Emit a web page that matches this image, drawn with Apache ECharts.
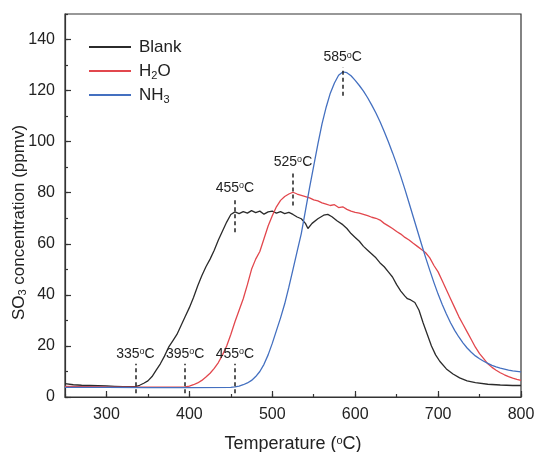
<!DOCTYPE html>
<html>
<head>
<meta charset="utf-8">
<script src="https://cdn.jsdelivr.net/npm/echarts@6/dist/echarts.min.js"></script>
<style>html,body{margin:0;padding:0;background:#fff}#c{width:534px;height:452px}</style>
</head>
<body>
<div id="c"></div>
<script>
// Blank (no additive): [temperature °C, SO3 ppmv]
const blankData = [[250,5.2],[260,4.8],[270,4.6],[280,4.5],[290,4.4],[300,4.3],[310,4.2],[320,4.1],[330,4.1],[335,4.1],[340,4.6],[345,5.4],[350,6.3],[355,8],[360,10.5],[365,13],[370,16],[375,19.5],[380,22],[385,24.5],[390,28],[395,31.5],[400,35],[405,39],[410,43.5],[415,47.5],[420,51],[425,54],[430,57.5],[435,61.5],[440,65],[445,68.5],[450,71.5],[455,72.5],[460,71.8],[465,72.6],[470,72],[475,73],[480,72.2],[485,72.8],[490,71.6],[495,72.5],[500,72.8],[505,72],[510,72.6],[515,71.8],[520,72.3],[525,71.5],[530,70.5],[535,69.8],[540,68],[543,66],[548,68],[555,69.8],[562,71.2],[567,71.5],[572,70.6],[578,69],[585,67.5],[590,66],[595,64],[600,62.5],[605,61],[610,59],[615,57.5],[620,56],[625,54.5],[630,52.5],[635,51],[640,49],[645,47],[650,44],[655,41.5],[660,39.5],[663,38.5],[667,38],[672,37],[677,34],[682,29],[687,24.5],[692,20],[697,16.5],[702,14],[710,11],[718,9],[726,7.5],[735,6.3],[745,5.6],[760,5],[775,4.7],[790,4.5],[800,4.5]];
// H2O
const h2oData = [[250,4.2],[300,4],[350,3.9],[380,3.9],[395,4],[400,4.3],[405,4.8],[410,5.5],[415,6.5],[420,7.8],[425,9.3],[430,11.2],[435,13.5],[440,16.5],[445,20],[450,24.5],[455,29.5],[460,34],[465,38.5],[470,44],[475,50],[480,54],[485,57],[490,62],[495,67],[500,71],[505,74.5],[510,77],[515,78.5],[520,79.5],[525,80.2],[530,79.5],[535,79],[540,78.5],[545,78],[550,77.2],[555,76.8],[560,76],[565,75.5],[570,75],[575,75.3],[580,74.2],[585,74.5],[590,73.5],[595,72.8],[600,72.3],[605,72],[610,71.5],[615,71],[620,70.4],[625,70],[630,69.3],[635,68],[640,67],[645,66],[650,64.8],[655,63.8],[660,62.5],[665,61.5],[670,60.2],[675,59],[680,57.8],[685,56.5],[690,54.5],[695,51.5],[700,49],[705,45.5],[710,42],[715,38.5],[720,35],[725,31.5],[730,28.5],[735,25.5],[740,22.5],[745,19.5],[750,17],[755,15],[760,13],[765,11.6],[770,10.5],[775,9.5],[780,8.7],[785,8],[790,7.4],[795,6.9],[800,6.5]];
// NH3
const nh3Data = [[250,3.8],[300,3.8],[350,3.7],[400,3.7],[450,3.8],[455,4],[460,4.3],[465,4.8],[470,5.5],[475,6.5],[480,8],[485,10],[490,12.8],[495,16.5],[500,21],[505,26],[510,31],[515,36.5],[520,43],[525,50],[530,57],[535,64],[540,73],[545,82],[550,90.5],[555,99],[560,107],[565,113.5],[570,119],[575,123],[580,126],[585,127.3],[590,127],[595,125.8],[600,124],[605,122],[610,119.8],[615,117.2],[620,114.3],[625,111.2],[630,107.8],[635,104],[640,100],[645,95.7],[650,91.2],[655,86.4],[660,81.3],[665,76],[670,70.6],[675,65.2],[680,59.8],[685,54.6],[690,49.6],[695,44.8],[700,40.3],[705,36.2],[710,32.5],[715,29.1],[720,26.1],[725,23.5],[730,21.2],[735,19.2],[740,17.5],[745,16.1],[750,15],[755,14],[760,13.2],[765,12.4],[770,11.8],[775,11.3],[780,10.9],[785,10.5],[790,10.2],[800,9.8]];

// dashed markers: temperature, lower and upper ppmv of the dash
const markerT = [335, 395, 455, 455, 525, 585];
const markerLow = [1.5, 1.5, 1.5, 64.5, 75, 118];
const markerHigh = [13, 13, 13, 78, 88, 129];

const seriesNames = ['Blank', 'H2O', 'NH3'];
const seriesColors = ['#2b2b2b', '#e2474d', '#4470c0'];

const FONT = 'Liberation Sans, Arial, sans-serif';
const chart = echarts.init(document.getElementById('c'), null, {renderer: 'canvas'});

const markLineData = markerT.map((t, i) => [
  {coord: [t, markerLow[i]], name: String(t)},
  {coord: [t, markerHigh[i]]}
]);

const mkSeries = (name, data, color, withMarks) => {
  const s = {
    name, type: 'line', data, xAxisIndex: 0, yAxisIndex: 0,
    showSymbol: false, symbol: 'none', smooth: false,
    lineStyle: {color, width: 1.3}, itemStyle: {color},
    animation: false, z: 3
  };
  if (withMarks) {
    s.markLine = {
      silent: true, symbol: ['none', 'none'], animation: false,
      lineStyle: {color: '#222', width: 1.5, type: [4, 3]},
      label: {
        show: true, position: 'end', distance: 3,
        formatter: p => '{n|' + p.name + '}{s|o}{n|C}',
        rich: {
          n: {fontSize: 14, fontFamily: FONT, color: '#222'},
          s: {fontSize: 9, fontFamily: FONT, color: '#222', verticalAlign: 'top'}
        }
      },
      emphasis: {disabled: true},
      data: markLineData
    };
  }
  return s;
};

chart.setOption({
  backgroundColor: '#fff',
  animation: false,
  grid: {left: 65, right: 13, top: 14, bottom: 55, show: true, borderColor: '#333', borderWidth: 1.2,
    backgroundColor: 'transparent', containLabel: false, outerBoundsMode: 'none'},
  legend: {
    left: 83, top: 32, orient: 'vertical', itemWidth: 42, itemHeight: 14, itemGap: 4,
    data: seriesNames,
    itemStyle: {opacity: 0},
    formatter: name => name === 'H2O' ? 'H{sub|2}O' : (name === 'NH3' ? 'NH{sub|3}' : name),
    textStyle: {
      fontSize: 17, fontFamily: FONT, color: '#222', padding: [0, 0, 0, 3], lineHeight: 20,
      rich: {sub: {fontSize: 11, fontFamily: FONT, color: '#222', verticalAlign: 'bottom'}}
    }
  },
  xAxis: [{
    type: 'value', min: 250, max: 800, splitNumber: 5,
    name: 'Temperature ({s|o}C)', nameLocation: 'middle', nameGap: 38, nameMoveOverlap: false,
    nameTextStyle: {fontSize: 18, fontFamily: FONT, color: '#222',
      rich: {s: {fontSize: 11, fontFamily: FONT, color: '#222', verticalAlign: 'top'}}},
    axisLine: {show: true, onZero: false, lineStyle: {color: '#333', width: 1.2}},
    axisTick: {show: true, inside: true, length: 6, lineStyle: {color: '#333', width: 1.2}},
    axisLabel: {fontSize: 16, fontFamily: FONT, color: '#222', margin: 10, showMinLabel: false},
    splitLine: {show: false}
  }, {
    type: 'value', min: 250, max: 800, interval: 50, position: 'bottom',
    axisLine: {show: false}, axisLabel: {show: false}, splitLine: {show: false},
    axisTick: {show: true, inside: true, length: 3, lineStyle: {color: '#333', width: 1.2}}
  }],
  yAxis: [{
    type: 'value', min: 0, max: 150, interval: 20,
    name: 'SO{sub|3} concentration (ppmv)', nameLocation: 'middle', nameGap: 37, nameRotate: 90,
    nameMoveOverlap: false,
    nameTextStyle: {fontSize: 17, fontFamily: FONT, color: '#222', padding: [0, 34, 0, 0],
      rich: {sub: {fontSize: 11, fontFamily: FONT, color: '#222', verticalAlign: 'bottom'}}},
    axisLine: {show: true, onZero: false, lineStyle: {color: '#333', width: 1.2}},
    axisTick: {show: true, inside: true, length: 6, lineStyle: {color: '#333', width: 1.2}},
    axisLabel: {fontSize: 16, fontFamily: FONT, color: '#222', margin: 10, showMaxLabel: false},
    splitLine: {show: false}
  }, {
    type: 'value', min: 0, max: 150, interval: 10, position: 'left',
    axisLine: {show: false}, axisLabel: {show: false}, splitLine: {show: false},
    axisTick: {show: true, inside: true, length: 3, lineStyle: {color: '#333', width: 1.2}}
  }],
  series: [
    mkSeries(seriesNames[0], blankData, seriesColors[0], true),
    mkSeries(seriesNames[1], h2oData, seriesColors[1], false),
    mkSeries(seriesNames[2], nh3Data, seriesColors[2], false)
  ]
});
</script>
</body>
</html>
